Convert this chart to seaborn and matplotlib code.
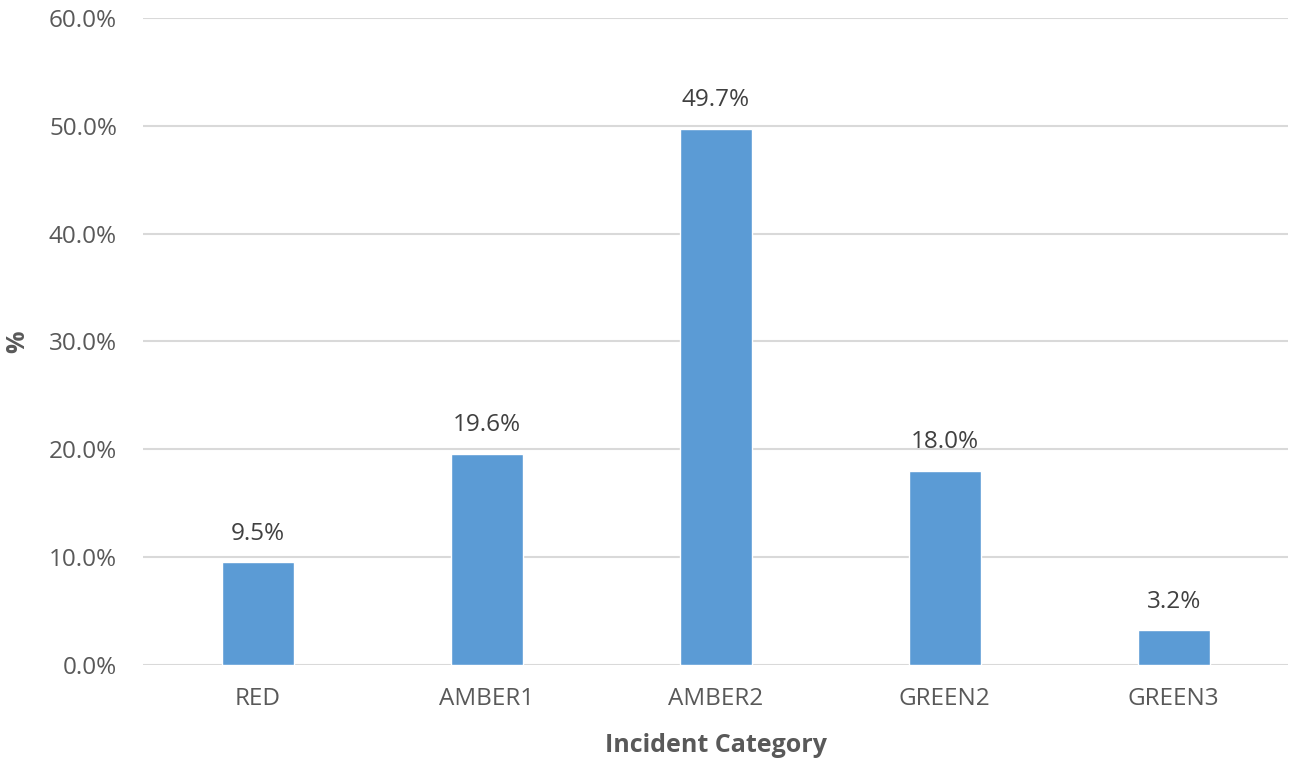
import matplotlib
matplotlib.use('Agg')
import matplotlib.pyplot as plt
import matplotlib.ticker as mtick
import pandas as pd
import seaborn as sns

categories = ['RED', 'AMBER1', 'AMBER2', 'GREEN2', 'GREEN3']
pct = [9.5, 19.6, 49.7, 18.0, 3.2]
yticks = [0, 10, 20, 30, 40, 50, 60]

df = pd.DataFrame({'cat': categories, 'pct': pct})

sns.set_style('white')
plt.rcParams['font.family'] = ['Open Sans', 'DejaVu Sans']
grey = '#595959'

fig = plt.figure(figsize=(12.92, 7.66), dpi=100)
ax = fig.add_axes([0.111, 0.132, 0.886, 0.8445])

sns.barplot(data=df, x='cat', y='pct', color='#5B9BD5', saturation=1,
            width=0.315, ax=ax, zorder=3)

for i, v in enumerate(pct):
    ax.annotate(f'{v:.1f}%', (i, v), xytext=(0, 12), textcoords='offset points',
                ha='center', va='bottom', fontsize=17.5, color='#404040')

ax.set_ylim(0, 60)
ax.set_yticks(yticks)
ax.yaxis.set_major_formatter(mtick.FuncFormatter(lambda v, p: f'{v:.1f}%'))
ax.grid(axis='y', color='#D9D9D9', linewidth=1.5, zorder=0)
ax.set_axisbelow(True)
for s in ax.spines.values():
    s.set_visible(False)
ax.tick_params(axis='both', length=0, labelsize=17.5, labelcolor=grey)
ax.tick_params(axis='x', pad=16)
ax.tick_params(axis='y', pad=19)

ax.set_xlabel('Incident Category', fontsize=18, fontweight='bold', color=grey)
ax.set_ylabel('%', fontsize=18, fontweight='bold', color=grey)
ax.xaxis.set_label_coords(0.5, -0.105)
ax.xaxis.label.set_va('top')
ax.yaxis.set_label_coords(-0.099, 0.5)

fig.savefig('out.png', dpi=100)
